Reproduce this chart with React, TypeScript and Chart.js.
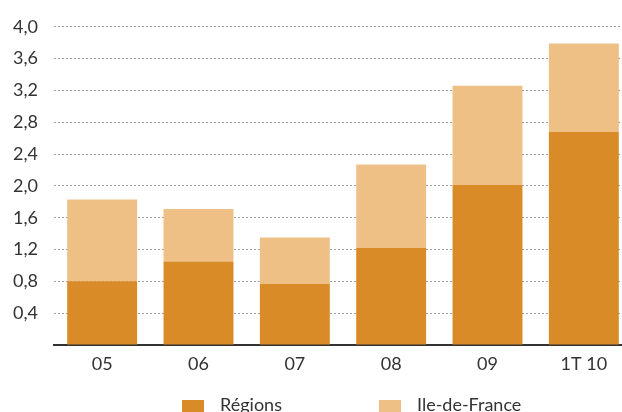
import React, { useEffect, useRef } from "react";
import { Chart, registerables } from "chart.js";

Chart.register(...registerables);

const categories = ["05", "06", "07", "08", "09", "1T 10"];
const regions = [0.8, 1.05, 0.77, 1.22, 2.01, 2.68];
const ileDeFrance = [1.03, 0.66, 0.58, 1.05, 1.25, 1.11];
const seriesLabels = ["Régions", "Ile-de-France"];
const Y_MAX = 4.0;
const Y_STEP = 0.4;

const DARK = "#D98B27";
const LIGHT = "#EEC085";
const FONT = "Lato";

const legendPlugin = {
  id: "customLegend",
  afterDraw(chart: any) {
    const ctx = chart.ctx;
    const xs = [182, 379];
    ctx.save();
    chart.data.datasets.forEach((ds: any, i: number) => {
      const x = xs[i];
      ctx.fillStyle = ds.backgroundColor;
      ctx.fillRect(x, 400, 22, 14);
      ctx.fillStyle = "#333333";
      ctx.font = `18px ${FONT}`;
      ctx.textBaseline = "alphabetic";
      ctx.textAlign = "left";
      ctx.fillText(ds.label, x + 38, 411);
    });
    ctx.restore();
  },
};

export default function App() {
  const ref = useRef<HTMLCanvasElement | null>(null);
  useEffect(() => {
    if (!ref.current) return;
    const chart = new Chart(ref.current, {
      type: "bar",
      data: {
        labels: categories,
        datasets: [
          { label: seriesLabels[0], data: regions, backgroundColor: DARK },
          { label: seriesLabels[1], data: ileDeFrance, backgroundColor: LIGHT },
        ],
      },
      plugins: [legendPlugin],
      options: {
        animation: false,
        responsive: false,
        devicePixelRatio: 1,
        layout: { padding: { top: 24, right: 2, bottom: 0, left: 0 } },
        datasets: {
          bar: { categoryPercentage: 1, barPercentage: 0.726 },
        } as any,
        plugins: {
          legend: { display: false },
          tooltip: { enabled: false },
        },
        scales: {
          x: {
            stacked: true,
            grid: { display: false, drawTicks: false },
            border: { display: true, color: "#333333", width: 2 },
            ticks: {
              padding: 8,
              color: "#333333",
              font: { family: FONT, size: 18 },
            },
            afterFit(scale: any) {
              scale.height = 67;
            },
          },
          y: {
            stacked: true,
            min: 0,
            max: Y_MAX,
            grid: {
              drawTicks: false,
              color: "#a0a0a0",
              lineWidth: 1,
            },
            border: { display: false, dash: [2, 2] },
            ticks: {
              stepSize: Y_STEP,
              padding: 16,
              color: "#333333",
              font: { family: FONT, size: 18 },
              callback: (v: any) =>
                Number(v) === 0 ? "" : Number(v).toFixed(1).replace(".", ","),
            },
            afterFit(scale: any) {
              scale.width = 54;
            },
          },
        },
      },
    });
    return () => chart.destroy();
  }, []);
  return (
    <div
      style={{
        position: "fixed",
        left: 0,
        top: 0,
        width: 622,
        height: 412,
        overflow: "hidden",
        background: "#ffffff",
      }}
    >
      <canvas ref={ref} width={634} height={412} style={{ width: 634, height: 412, display: "block" }} />
    </div>
  );
}
